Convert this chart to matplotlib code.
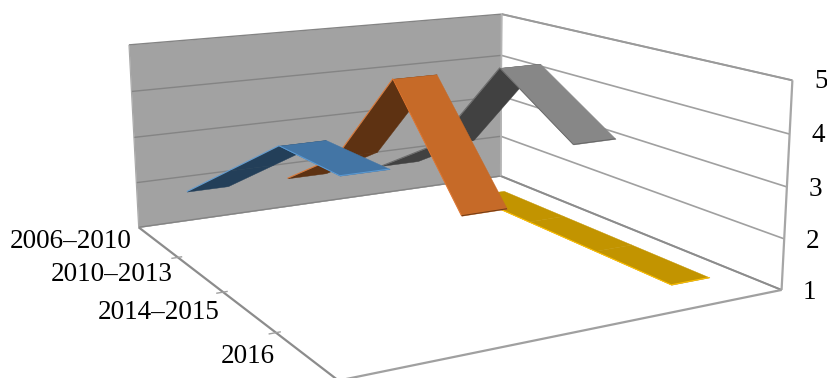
import numpy as np
import matplotlib
matplotlib.use("Agg")
import matplotlib.pyplot as plt
from mpl_toolkits.mplot3d import proj3d
from mpl_toolkits.mplot3d.art3d import Poly3DCollection

categories = ["2006\u20132010", "2010\u20132013", "2014\u20132015", "2016"]
value_ticks = [1, 2, 3, 4, 5]

blue_values = [2, 3, 4, 4]
orange_values = [2, 3, 5, 3]
gray_values = [2, 3, 5, 4]
gold_values = [1, 1, 1, 1]

series = [
    # drawn back to front: values, dark face, light face, left edge, end edge
    (3, gold_values, "#c29400", "#c29400", "#ffc000", "#ffc000"),
    (2, gray_values, "#414141", "#878787", "#6a6a6a", "#666666"),
    (1, orange_values, "#5e3212", "#c66a28", "#e0752e", "#6e3a14"),
    (0, blue_values, "#233f59", "#4375a5", "#5b9bd5", "#5b9bd5"),
]

RIBBON = 0.4
N = len(categories)
FIG_W, FIG_H = 827, 378

plt.rcParams["font.family"] = ["Liberation Serif", "DejaVu Serif"]

fig = plt.figure(figsize=(FIG_W / 100, FIG_H / 100), dpi=100)
# the square 3d panel is larger than the figure and hangs off its lower edge
side = 694.86
ax = fig.add_axes([79.67 / FIG_W, -139.17 / FIG_H, side / FIG_W, side / FIG_H], projection="3d")
ax.computed_zorder = False
ax.set_xlim(0, N)
ax.set_ylim(0, N)
ax.set_zlim(1, 5)
ax.view_init(13.46693, -118.79357, 0.27616)
ax.set_proj_type("persp", focal_length=0.3978)
ax.set_box_aspect((1, 1.1065, 0.4353))
ax.set_axis_off()


def add_quad(verts, color, zorder):
    poly = Poly3DCollection([verts], facecolors=color, edgecolors=color, linewidths=0.3,
                            zorder=zorder, clip_on=False)
    ax.add_collection3d(poly, autolim=False)


def add_line(xs, ys, zs, color, lw, zorder):
    ax.plot(xs, ys, zs, color=color, lw=lw, zorder=zorder, clip_on=False, solid_capstyle="butt")


def add_label(x, y, z, label, ha):
    # Text3D has no usable extent, so place plain text at the projected point
    px, py, _ = proj3d.proj_transform(x, y, z, ax.get_proj())
    ax.text2D(px, py, label, transform=ax.transData, fontsize=19.5, ha=ha, va="center",
              color="black", zorder=50)


# walls: grey back wall at far y, white side wall at right
add_quad([(0, N, 1), (N, N, 1), (N, N, 5), (0, N, 5)], "#a2a2a2", 1)

for v in value_ticks:
    add_line([0, N], [N, N], [v, v], "#848484", 1.0, 2)
    add_line([N, N], [N, 0], [v, v], "#a0a0a0", 1.2, 2)
add_line([N, N], [N, 0], [1, 1], "#8c8c8c", 1.4, 2)
add_line([N, N], [N, 0], [5, 5], "#9a9a9a", 1.4, 2)
add_line([0, 0], [N, N], [1, 5], "#a8a8a8", 0.8, 2)
add_line([N, N], [N, N], [1, 5], "#b4b4b4", 1.2, 2)
add_line([N, N], [0, 0], [1, 5], "#a6a6a6", 1.6, 2)

# floor edges and category ticks
add_line([0, 0], [N, 0], [1, 1], "#8c8c8c", 1.6, 2)
add_line([0, N], [0, 0], [1, 1], "#a0a0a0", 1.6, 2)
for i in range(1, N):
    add_line([-0.06, 0.04], [N - i, N - i], [1, 1], "#a0a0a0", 1.0, 2)

# one ribbon per series, running front to back along the categories
z = 3
for pos, values, dark, light, edge, end_edge in series:
    x0 = pos + 0.5 - RIBBON / 2
    x1 = x0 + RIBBON
    ys = [N - i - 0.5 for i in range(N)]
    for i in range(N - 1):
        color = dark if values[i + 1] > values[i] else light
        add_quad([(x0, ys[i], values[i]), (x1, ys[i], values[i]),
                  (x1, ys[i + 1], values[i + 1]), (x0, ys[i + 1], values[i + 1])], color, z)
        z += 1
    add_line([x0] * N, ys, values, edge, 0.7, z)
    add_line([x0, x1], [ys[-1], ys[-1]], [values[-1], values[-1]], end_edge, 0.7, z)
    z += 1

for i, label in enumerate(categories):
    add_label(-0.24, N - i - 0.5, 1.08, label, "right")
for v in value_ticks:
    add_label(N + 0.15, -0.15, v, str(v), "center")

fig.savefig("out.png", dpi=100, facecolor="white")
